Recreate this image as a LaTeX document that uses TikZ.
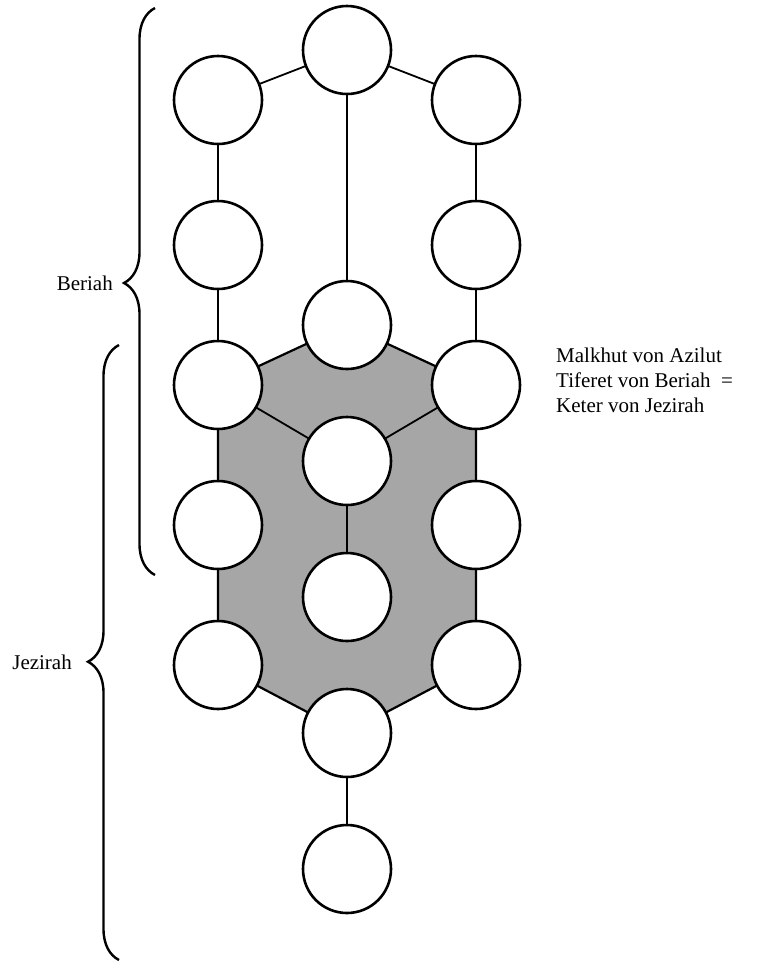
\documentclass[tikz,border=0pt]{standalone}
\usepackage{fontspec}
\setmainfont{Liberation Serif}
\usetikzlibrary{positioning,backgrounds,decorations.pathreplacing}

\begin{document}
\begin{tikzpicture}[
    x=1pt, y=-1pt,
    sefira/.style={circle, draw, line width=2.6pt, fill=white, minimum size=88pt, inner sep=0pt, outer sep=0pt},
    link/.style={line width=1.8pt},
    world/.style={font=\fontsize{21}{25}\selectfont, inner sep=0pt},
    worldbrace/.style={decorate, decoration={brace, amplitude=31pt, aspect=#1}, line width=2.4pt},
    node distance=48pt
]
    \useasboundingbox (0,0) rectangle (764,978);

    % Middle column
    \node[sefira] (m0) at (347,50) {};
    \node[sefira, below=187pt of m0] (m4) {};
    \node[sefira, below=of m4] (m6) {};
    \node[sefira, below=of m6] (m8) {};
    \node[sefira, below=of m8] (m10) {};
    \node[sefira, below=of m10] (m12) {};

    % Left column
    \node[sefira] (l1) at (218,100) {};
    \node[sefira, below=57pt of l1] (l3) {};
    \node[sefira, below=52pt of l3] (l5) {};
    \node[sefira, below=52pt of l5] (l7) {};
    \node[sefira, below=52pt of l7] (l9) {};

    % Right column
    \node[sefira] (r1) at (476,100) {};
    \node[sefira, below=57pt of r1] (r3) {};
    \node[sefira, below=52pt of r3] (r5) {};
    \node[sefira, below=52pt of r5] (r7) {};
    \node[sefira, below=52pt of r7] (r9) {};

    % Shaded hexagon
    \begin{scope}[on background layer]
        \draw[line width=2.2pt, fill=black!35] (m4.center) -- (r5.center) -- (r9.center)
            -- (m10.center) -- (l9.center) -- (l5.center) -- cycle;
    \end{scope}

    % Links
    \draw[link] (m0) -- (l1);
    \draw[link] (m0) -- (r1);
    \draw[link] (m0) -- (m4);
    \draw[link] (l1) -- (l3);
    \draw[link] (l3) -- (l5);
    \draw[link] (r1) -- (r3);
    \draw[link] (r3) -- (r5);
    \draw[link] (l5) -- (m6);
    \draw[link] (r5) -- (m6);
    \draw[link] (m6) -- (m8);
    \draw[link] (m10) -- (m12);

    % Beriah
    \coordinate (beriahTop) at (155,8);
    \coordinate (beriahBottom) at (155,575);
    \draw[worldbrace=0.515] (beriahBottom) -- (beriahTop);
    \node[world, anchor=east] (beriah) at (113,283) {Beriah};

    % Jezirah
    \coordinate (jezirahTop) at (119,345);
    \coordinate (jezirahBottom) at (119,960);
    \draw[worldbrace=0.485] (jezirahBottom) -- (jezirahTop);
    \node[world, anchor=east] (jezirah) at (72,662) {Jezirah};

    % Note
    \node[world, anchor=west, align=left] (note) at (556,380) {Malkhut von Azilut\\Tiferet von Beriah~~=\\Keter von Jezirah};
\end{tikzpicture}
\end{document}
